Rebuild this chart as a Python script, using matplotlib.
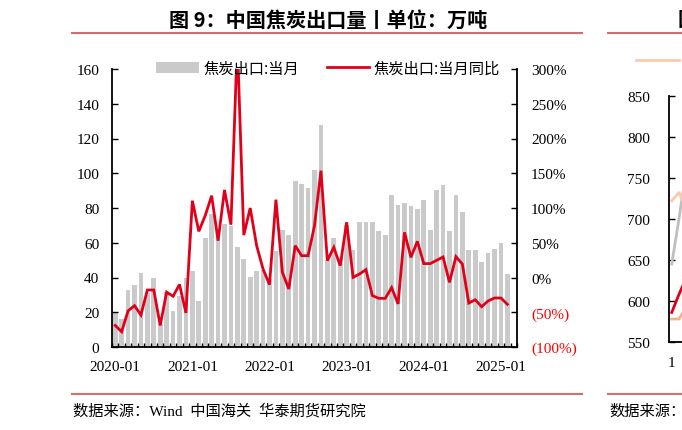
import matplotlib
matplotlib.use('Agg')
import matplotlib.pyplot as plt
import numpy as np
from matplotlib.lines import Line2D

plt.rcParams['font.family'] = ['Liberation Serif', 'Noto Sans CJK SC']

# ---- data (万吨, 2020-01 .. 2025-02) ----
export_volume = [20.3, 16, 32.8, 35.5, 42.4, 31, 39.5, 13, 31.5, 20.5, 29.4, 39.7,
                 43.6, 26.3, 62.6, 76.6, 64, 70.8, 69.9, 57.4, 50.7, 40.5, 43.8, 44.5,
                 39, 55.5, 67.6, 64.7, 95.8, 93.9, 91.6, 101.9, 127.8, 50, 62.6, 51.5,
                 70, 55.9, 71.8, 72.2, 71.8, 66.8, 64.7, 87.5, 81.6, 83.1, 81.2, 79.7,
                 84.5, 67.4, 90.4, 93.5, 67, 87.5, 77.9, 56, 55.7, 49.1, 54.3, 56.2,
                 59.9, 42]
export_yoy = [-69, -78, -48, -40.5, -54, -18, -18, -69, -21, -27, -10, -51,
              110.5, 66.4, 89, 117.7, 53, 126, 76, 340, 61, 100, 45.8, 12.2,
              -10.3, 112, 7.4, -16.5, 45.8, 31.4, 31.4, 74.6, 153.7, 24.2, 43.4, 17,
              79.4, 0.2, 5, 11.3, -26, -30, -30, -14.6, -38, 65, 29, 52,
              20, 20, 24.7, 29.5, -7, 30, 19.4, -36.7, -32, -42, -33.8, -29.5,
              -29.5, -38.6]
year_labels = ['2020-01', '2021-01', '2022-01', '2023-01', '2024-01', '2025-01']
year_label_idx = [0, 12, 24, 36, 48, 60]
left_ticks = [0, 20, 40, 60, 80, 100, 120, 140, 160]
right_ticks = [-100, -50, 0, 50, 100, 150, 200, 250, 300]
right_tick_labels = ['(100%)', '(50%)', '0%', '50%', '100%', '150%', '200%', '250%', '300%']

# partial neighbouring chart (only its left edge is visible)
side_x = [1, 2, 3]
side_gray = [645, 700, 760]
side_peach = [722, 732, 712]
side_red = [586, 608, 628]
side_orange = [578, 578, 592]
side_ticks = [550, 600, 650, 700, 750, 800, 850]

W, H = 682, 431
fig = plt.figure(figsize=(W / 100, H / 100), dpi=100)

ax = fig.add_axes([112 / W, 1 - 348 / H, 405 / W, 278 / H])
x = np.arange(len(export_volume))
bars = ax.bar(x, export_volume, width=0.72, color='#CACACA', label='焦炭出口:当月', zorder=1)
ax.set_xlim(-0.5, 62.5)
ax.set_ylim(0, 160)
ax.set_yticks(left_ticks)
ax.set_xticks(year_label_idx)
ax.set_xticklabels(year_labels)
ax.set_xticks(np.arange(-0.5, 63, 1), minor=True)
ax.tick_params(axis='x', which='major', length=0, pad=9.5, labelsize=11)
ax.tick_params(axis='x', which='minor', direction='in', length=3, width=1)
ax.tick_params(axis='y', direction='in', length=4, width=1, pad=9, labelsize=11)
for s in ['top', 'right']:
    ax.spines[s].set_visible(False)
for s in ['left', 'bottom']:
    ax.spines[s].set_linewidth(1.3)

ax2 = ax.twinx()
line, = ax2.plot(x, export_yoy, color='#E1001A', lw=2.0, label='焦炭出口:当月同比',
                 solid_joinstyle='miter')
ax2.set_ylim(-100, 300)
ax2.set_yticks(right_ticks)
ax2.set_yticklabels(right_tick_labels)
ax2.tick_params(axis='y', direction='in', length=4, width=1, pad=10, labelsize=11)
for lab, v in zip(ax2.get_yticklabels(), right_ticks):
    if v < 0:
        lab.set_color('#FF0000')
for s in ['top', 'left', 'bottom']:
    ax2.spines[s].set_visible(False)
ax2.spines['right'].set_linewidth(1.3)

fig.legend([bars, line], ['焦炭出口:当月', '焦炭出口:当月同比'], loc='center left',
           bbox_to_anchor=(156 / W, 1 - 69 / H), ncol=2, frameon=False,
           prop={'family': 'Noto Sans CJK SC', 'size': 11}, handlelength=2.8,
           handletextpad=0.3, columnspacing=1.8, borderaxespad=0, borderpad=0)

fig.text(328 / W, 1 - 20 / H, '图 9：中国焦炭出口量丨单位：万吨', ha='center', va='center',
         fontsize=14.5, fontweight='bold', family=['Noto Sans CJK SC'])
sep_color = '#CF6F6F'
fig.add_artist(Line2D([72 / W, 582 / W], [1 - 34 / H] * 2, color=sep_color, lw=1.5))
fig.add_artist(Line2D([72 / W, 582 / W], [1 - 395 / H] * 2, color=sep_color, lw=1.5))
fig.text(73 / W, 1 - 411 / H, '数据来源：Wind  中国海关  华泰期货研究院', va='center',
         fontsize=11, family=['Liberation Serif', 'Noto Sans CJK SC'])

# ---- neighbouring chart fragment ----
fig.add_artist(Line2D([608 / W, 1.0], [1 - 34 / H] * 2, color=sep_color, lw=1.5))
fig.add_artist(Line2D([608 / W, 1.0], [1 - 395 / H] * 2, color=sep_color, lw=1.5))
fig.text(609 / W, 1 - 411 / H, '数据来源：', va='center', fontsize=11,
         family=['Noto Sans CJK SC'])
fig.text(678 / W, 1 - 20 / H, '图', ha='left', va='center', fontsize=14.5,
         fontweight='bold', family=['Noto Sans CJK SC'])
bx = fig.add_axes([669 / W, 1 - 343 / H, 140 / W, (343 - 96.7) / H])
bx.plot(side_x, side_gray, color='#BFBFBF', lw=2)
bx.plot(side_x, side_peach, color='#F8CBAD', lw=2, label='2021')
bx.plot(side_x, side_red, color='#E1001A', lw=2)
bx.plot(side_x, side_orange, color='#F4B183', lw=2)
bx.set_ylim(550, 850)
bx.set_xlim(0.62, 20)
bx.set_yticks(side_ticks)
bx.set_xticks([1])
bx.tick_params(axis='y', direction='in', length=4, width=1, pad=13.5, labelsize=11)
bx.tick_params(axis='x', length=0, pad=10, labelsize=11)
for s in ['top', 'right']:
    bx.spines[s].set_visible(False)
for s in ['left', 'bottom']:
    bx.spines[s].set_linewidth(1.3)
fig.legend(handles=bx.get_lines()[1:2], labels=['2'], loc='center left',
           bbox_to_anchor=(636 / W, 1 - 62 / H), frameon=False,
           prop={'family': 'Noto Sans CJK SC', 'size': 11}, handlelength=2.8,
           handletextpad=0.3, borderaxespad=0, borderpad=0)

fig.savefig('out.png', dpi=100)
